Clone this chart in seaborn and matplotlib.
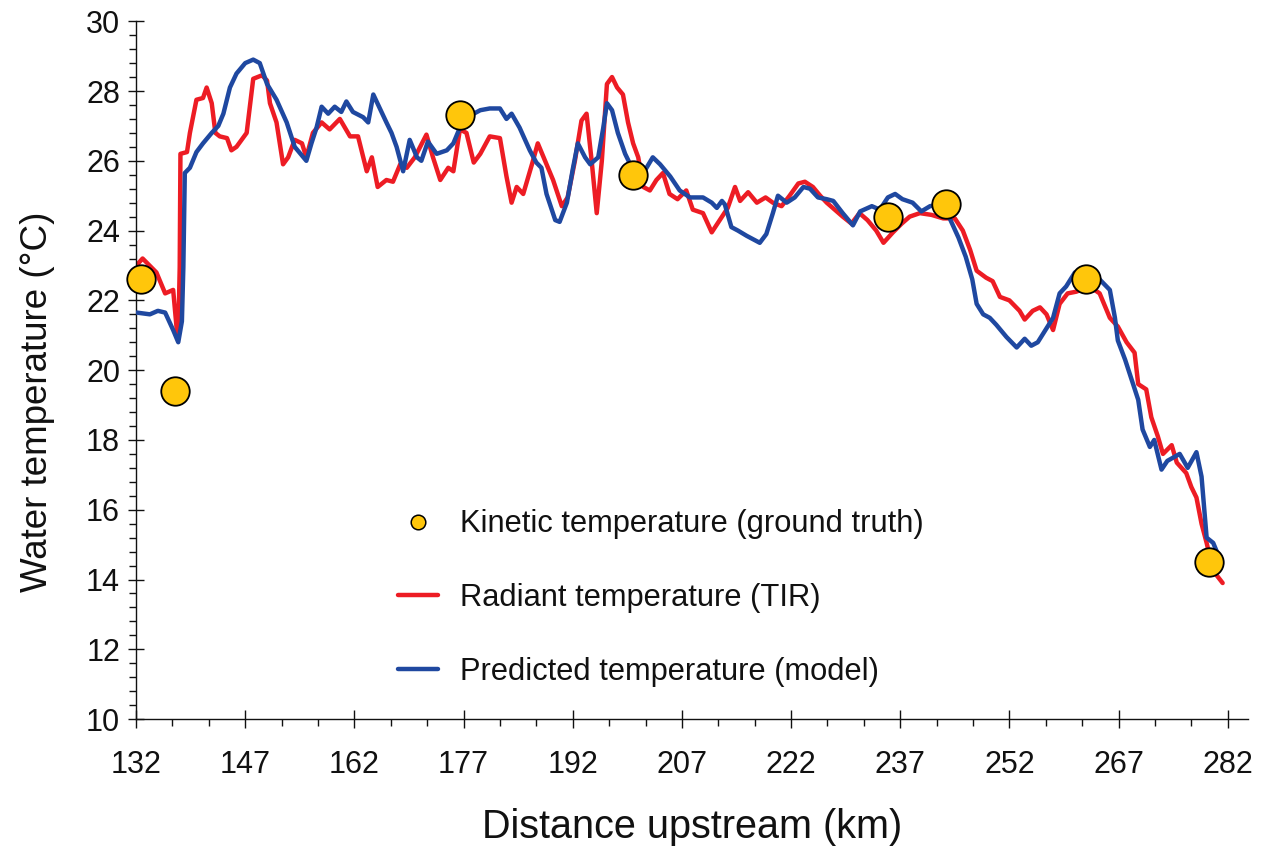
import numpy as np
import pandas as pd
import matplotlib
matplotlib.use('Agg')
import matplotlib.pyplot as plt
import seaborn as sns
from matplotlib.ticker import MultipleLocator
from matplotlib.lines import Line2D

# ground truth (kinetic) temperatures
kinetic_km = [132.7, 137.4, 176.5, 200.3, 235.3, 243.3, 262.5, 279.4]
kinetic_temp = [22.6, 19.4, 27.3, 25.6, 24.4, 24.75, 22.6, 14.5]

# radiant temperature (TIR)
tir_km = [132.0, 132.3, 132.9, 134.8, 136.0, 137.1, 137.6, 137.8, 138.0, 138.1,
          139.0, 139.4, 140.3, 141.2, 141.7, 142.4, 142.9, 143.5, 144.5, 145.1,
          145.8, 147.2, 148.1, 149.3, 150.0, 150.4, 151.3, 152.2, 152.9, 153.8,
          154.8, 155.4, 156.3, 157.5, 158.6, 160.0, 161.4, 162.5, 163.7, 164.4,
          165.2, 166.4, 167.3, 168.3, 169.2, 170.3, 171.9, 172.8, 173.8, 174.9,
          175.6, 176.5, 177.4, 178.4, 179.3, 180.6, 182.0, 182.9, 183.6, 184.3,
          185.2, 186.4, 187.2, 188.2, 189.3, 190.5, 191.3, 192.3, 193.2, 193.9,
          194.6, 195.3, 196.0, 196.7, 197.4, 198.1, 198.9, 199.6, 200.3, 201.0,
          201.7, 202.6, 203.5, 204.4, 205.3, 206.4, 207.6, 208.5, 209.9, 211.1,
          212.2, 213.3, 214.3, 215.0, 216.1, 217.3, 218.5, 219.5, 220.7, 221.8,
          223.0, 223.9, 225.0, 226.0, 226.9, 228.0, 229.1, 230.3, 231.4, 232.5,
          233.7, 234.7, 236.0, 237.2, 238.3, 239.7, 241.3, 242.9, 244.5, 245.6,
          246.6, 247.5, 248.8, 249.7, 250.7, 252.0, 253.4, 254.1, 255.2, 256.2,
          257.1, 258.0, 258.9, 260.0, 261.2, 263.0, 264.4, 265.8, 266.9, 268.1,
          269.2, 269.7, 270.8, 271.5, 272.4, 273.1, 274.3, 275.0, 276.3, 277.0,
          277.7, 278.4, 279.1, 280.0, 281.3]
tir_temp = [22.8, 23.06, 23.2, 22.8, 22.2, 22.3, 21.15, 20.95, 22.95, 26.2,
            26.25, 26.8, 27.75, 27.8, 28.1, 27.65, 26.8, 26.7, 26.65, 26.3,
            26.4, 26.8, 28.35, 28.45, 28.3, 27.65, 27.1, 25.9, 26.1, 26.6,
            26.5, 26.1, 26.8, 27.1, 26.9, 27.2, 26.7, 26.7, 25.7, 26.1,
            25.25, 25.45, 25.4, 25.9, 25.8, 26.1, 26.75, 26.1, 25.45, 25.8,
            25.7, 26.9, 26.8, 25.95, 26.2, 26.7, 26.65, 25.55, 24.8, 25.25,
            25.05, 25.9, 26.5, 26.0, 25.45, 24.7, 24.95, 26.0, 27.15, 27.35,
            26.0, 24.5, 26.0, 28.2, 28.4, 28.1, 27.9, 27.1, 26.5, 26.1,
            25.25, 25.15, 25.45, 25.65, 25.05, 24.9, 25.15, 24.6, 24.5, 23.95,
            24.3, 24.65, 25.25, 24.85, 25.1, 24.8, 24.95, 24.8, 24.7, 25.0,
            25.35, 25.4, 25.25, 25.0, 24.8, 24.6, 24.4, 24.2, 24.5, 24.3,
            24.0, 23.65, 23.95, 24.2, 24.4, 24.5, 24.45, 24.35, 24.35, 24.0,
            23.45, 22.85, 22.65, 22.55, 22.1, 22.0, 21.7, 21.45, 21.7, 21.8,
            21.6, 21.15, 21.9, 22.2, 22.25, 22.4, 22.2, 21.5, 21.25, 20.8,
            20.5, 19.6, 19.45, 18.65, 18.1, 17.6, 17.85, 17.35, 17.05, 16.65,
            16.35, 15.6, 15.05, 14.25, 13.9]

# predicted temperature (model)
model_km = [132.1, 133.9, 135.0, 136.0, 137.1, 137.8, 138.3, 138.5, 138.7, 139.4,
            140.3, 141.2, 142.4, 143.3, 144.0, 144.9, 145.8, 147.0, 148.1, 149.0,
            150.0, 151.3, 152.7, 153.8, 155.4, 156.1, 156.8, 157.5, 158.4, 159.3,
            160.2, 160.9, 161.8, 163.2, 163.9, 164.6, 165.5, 166.4, 167.1, 167.8,
            168.7, 169.6, 170.6, 171.2, 172.1, 173.3, 174.7, 175.6, 176.5, 178.4,
            179.3, 180.6, 182.0, 182.9, 183.6, 184.7, 186.1, 187.0, 187.7, 188.4,
            189.6, 190.2, 191.2, 192.0, 192.7, 193.7, 194.4, 195.5, 196.2, 196.7,
            197.4, 198.2, 199.2, 199.9, 200.8, 202.0, 203.0, 204.0, 205.4, 206.7,
            208.1, 209.9, 211.1, 211.8, 212.5, 212.9, 213.8, 214.7, 215.9, 217.7,
            218.6, 219.5, 220.2, 221.4, 222.5, 223.7, 224.6, 225.7, 226.9, 227.8,
            229.1, 230.5, 231.5, 233.1, 234.2, 235.3, 236.3, 237.3, 238.7, 239.9,
            241.1, 242.5, 243.8, 245.0, 246.0, 246.9, 247.5, 248.4, 249.3, 250.2,
            251.6, 253.0, 254.1, 255.0, 255.9, 257.1, 258.0, 258.9, 259.8, 261.0,
            263.0, 264.4, 265.8, 266.5, 266.9, 267.9, 269.0, 269.7, 270.3, 271.3,
            271.9, 272.9, 273.7, 275.4, 276.5, 277.7, 278.4, 279.1, 280.0, 281.1]
model_temp = [21.65, 21.6, 21.7, 21.65, 21.15, 20.8, 21.4, 22.95, 25.65, 25.8,
              26.25, 26.5, 26.8, 27.0, 27.35, 28.1, 28.5, 28.8, 28.9, 28.8,
              28.2, 27.75, 27.1, 26.4, 26.0, 26.5, 26.95, 27.55, 27.35, 27.55,
              27.4, 27.7, 27.4, 27.25, 27.1, 27.9, 27.5, 27.1, 26.8, 26.4,
              25.7, 26.6, 26.1, 26.0, 26.55, 26.2, 26.3, 26.5, 26.95, 27.35,
              27.45, 27.5, 27.5, 27.2, 27.35, 26.95, 26.3, 25.95, 25.8, 25.05,
              24.3, 24.25, 24.8, 25.75, 26.5, 26.1, 25.9, 26.1, 26.95, 27.65,
              27.45, 26.8, 26.2, 25.9, 25.8, 25.75, 26.1, 25.9, 25.55, 25.15,
              24.95, 24.95, 24.8, 24.65, 24.85, 24.75, 24.1, 24.0, 23.85, 23.65,
              23.9, 24.5, 25.0, 24.8, 24.95, 25.25, 25.2, 24.95, 24.9, 24.85,
              24.5, 24.15, 24.55, 24.7, 24.6, 24.95, 25.05, 24.9, 24.8, 24.55,
              24.7, 24.75, 24.35, 23.8, 23.25, 22.6, 21.9, 21.6, 21.5, 21.3,
              20.95, 20.65, 20.9, 20.7, 20.8, 21.2, 21.5, 22.2, 22.4, 22.8,
              22.65, 22.6, 22.3, 21.5, 20.85, 20.3, 19.6, 19.15, 18.3, 17.8,
              18.0, 17.15, 17.4, 17.6, 17.2, 17.65, 16.95, 15.2, 15.05, 14.5]

RED = '#ED1C24'
BLUE = '#1F48A0'
GOLD = '#FFC60B'
INK = '#111111'

sns.set_style('ticks')
plt.rcParams['font.family'] = ['Liberation Sans', 'DejaVu Sans']
plt.rcParams['text.color'] = INK
plt.rcParams['axes.labelcolor'] = INK
plt.rcParams['xtick.color'] = INK
plt.rcParams['ytick.color'] = INK

fig = plt.figure(figsize=(12.62, 8.49), dpi=100)
ax = fig.add_axes([0.1078, 0.153, 0.8812, 0.822])

tir = pd.DataFrame({'km': tir_km, 'temp': tir_temp})
model = pd.DataFrame({'km': model_km, 'temp': model_temp})
kin = pd.DataFrame({'km': kinetic_km, 'temp': kinetic_temp})

sns.lineplot(data=tir, x='km', y='temp', color=RED, linewidth=3.2, ax=ax, zorder=2)
sns.lineplot(data=model, x='km', y='temp', color=BLUE, linewidth=3.2, ax=ax, zorder=3)
sns.scatterplot(data=kin, x='km', y='temp', color=GOLD, s=420, edgecolor='black',
                linewidth=1.3, ax=ax, zorder=4, clip_on=False)

ax.set_xlim(132, 284.8)
ax.set_ylim(10, 30)
ax.xaxis.set_major_locator(MultipleLocator(15, offset=12))
ax.xaxis.set_minor_locator(MultipleLocator(5, offset=2))
ax.yaxis.set_major_locator(MultipleLocator(2))
ax.yaxis.set_minor_locator(MultipleLocator(0.4))
sns.despine(ax=ax)
for s in ['left', 'bottom']:
    ax.spines[s].set_linewidth(1.0)
    ax.spines[s].set_color(INK)

ax.tick_params(axis='x', which='major', direction='inout', length=13, width=1,
               labelsize=22, pad=16)
ax.tick_params(axis='y', which='major', direction='inout', length=11, width=1,
               labelsize=22, pad=6)
ax.tick_params(which='minor', direction='out', length=5, width=1)

ax.set_xlabel('Distance upstream (km)', fontsize=28.5, labelpad=20)
ax.set_ylabel('Water temperature (°C)', fontsize=26.5, labelpad=22)
ax.yaxis.label.set_y(0.455)

handles = [
    Line2D([], [], marker='o', linestyle='none', markersize=10.5,
           markerfacecolor=GOLD, markeredgecolor='black', markeredgewidth=1.1),
    Line2D([], [], color=RED, linewidth=3.2),
    Line2D([], [], color=BLUE, linewidth=3.2),
]
labels = ['Kinetic temperature (ground truth)', 'Radiant temperature (TIR)',
          'Predicted temperature (model)']
fig.legend(handles, labels, loc='upper left', bbox_to_anchor=(0.3154, 0.400),
           frameon=False, fontsize=22.2, labelspacing=1.42, handlelength=1.3,
           handletextpad=0.72, borderpad=0, borderaxespad=0)

fig.savefig('out.png', dpi=100)
